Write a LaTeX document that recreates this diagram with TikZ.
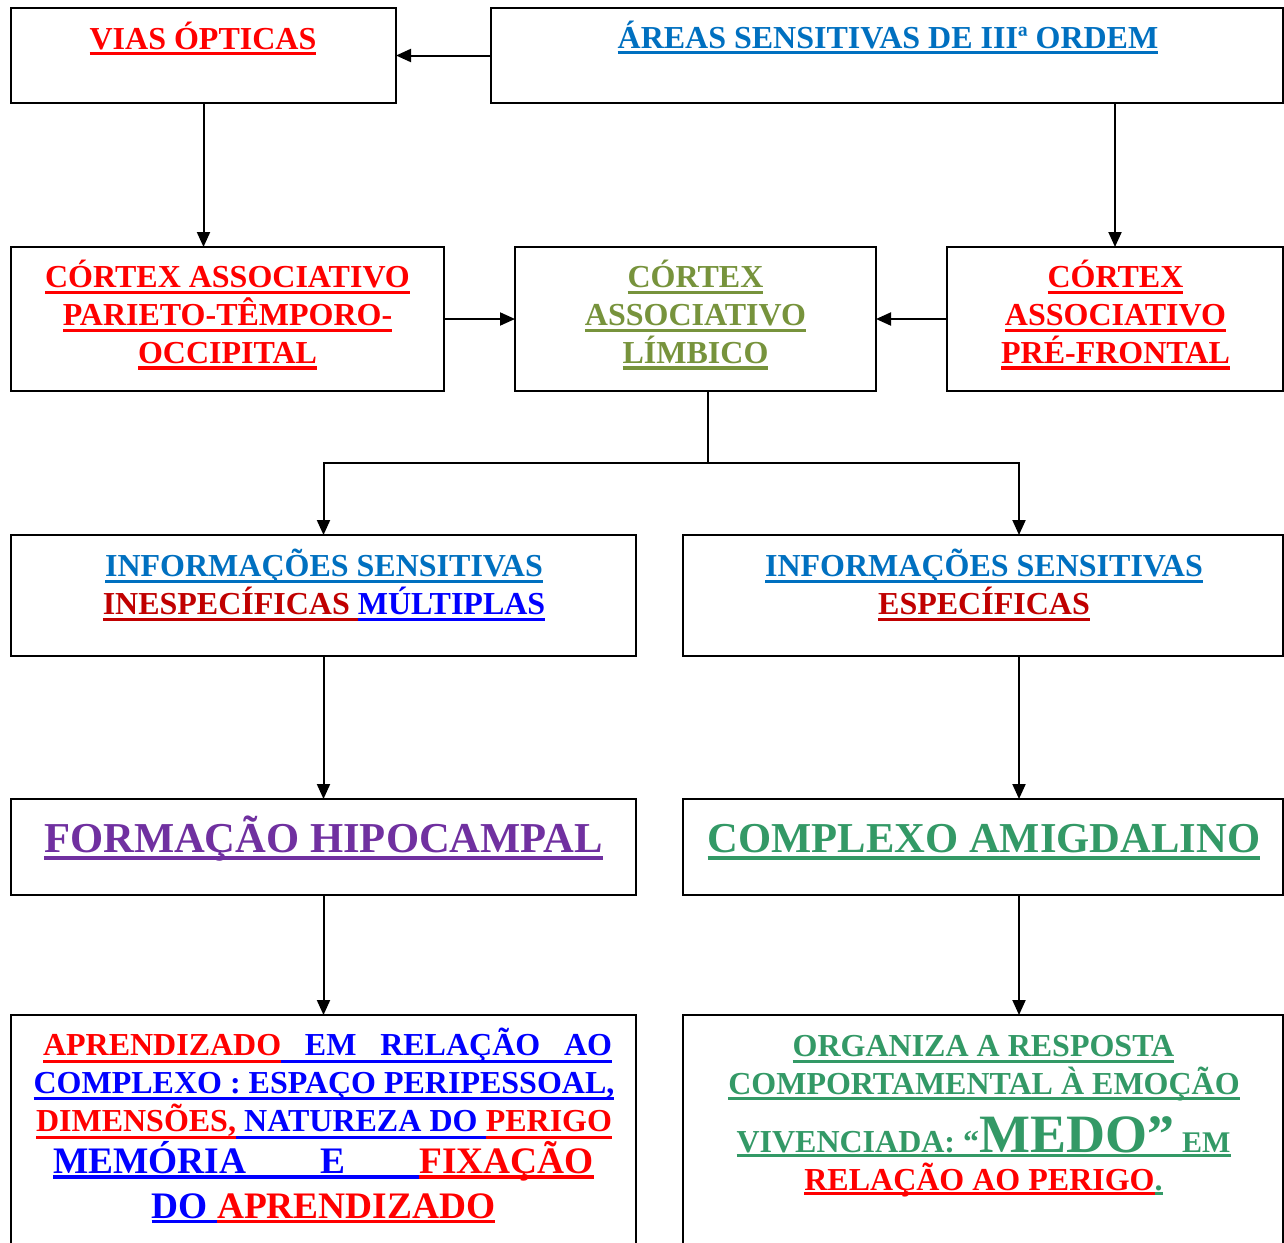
\documentclass[tikz,border=0pt]{standalone}
\usepackage{fontspec}
\setmainfont{Liberation Serif}
\usetikzlibrary{arrows.meta}

\definecolor{cred}{HTML}{FF0000}
\definecolor{cblueA}{HTML}{0070C0}
\definecolor{colive}{HTML}{77933C}
\definecolor{cdkred}{HTML}{C00000}
\definecolor{cblue}{HTML}{0000FF}
\definecolor{cpurple}{HTML}{7030A0}
\definecolor{cgreen}{HTML}{339966}

% coloured underline: position of the rule below the baseline
\newdimen\ulT \newdimen\ulB
\ulT=3pt \ulB=6.5pt
\newbox\ulbox
% underlined word(s) in a given colour
\newcommand\ulc[2]{{\color{#1}\setbox\ulbox\hbox{#2}\rlap{\vrule height -\ulT depth \ulB width \wd\ulbox}\box\ulbox}}
% stretchable underlined space in a given colour
\newcommand\ulsp[1]{{\color{#1}\leaders\hrule height -\ulT depth \ulB\hskip\fontdimen2\font plus 1fil\relax}}

\tikzset{
  box/.style={draw, line width=2pt, inner sep=0pt, outer sep=0pt, anchor=north west, fill=white},
  txt/.style={anchor=base, inner sep=0pt, outer sep=0pt, font=\bfseries\fontsize{32}{38}\selectfont},
  big/.style={txt, font=\bfseries\fontsize{42.6}{50}\selectfont},
  mid/.style={txt, font=\bfseries\fontsize{37.4}{44}\selectfont},
  arr/.style={line width=2pt, -{Triangle[length=15pt,width=13pt]}},
  link/.style={line width=2pt}
}

\begin{document}
\begin{tikzpicture}[x=1pt,y=-1pt]
\useasboundingbox (0,0) rectangle (1284,1242);
\clip (0,0) rectangle (1284,1242);
\fill[white] (0,0) rectangle (1284,1242);

% boxes
\node[box, minimum width=385, minimum height=95] (vias) at (11,8) {};
\node[box, minimum width=792, minimum height=95] (areas) at (491,8) {};
\node[box, minimum width=433, minimum height=144] (cpto) at (11,247) {};
\node[box, minimum width=361, minimum height=144] (clim) at (515,247) {};
\node[box, minimum width=336, minimum height=144] (cpf) at (947,247) {};
\node[box, minimum width=625, minimum height=121] (inesp) at (11,535) {};
\node[box, minimum width=600, minimum height=121] (esp) at (683,535) {};
\node[box, minimum width=625, minimum height=96] (hipo) at (11,799) {};
\node[box, minimum width=600, minimum height=96] (amig) at (683,799) {};
\node[box, minimum width=625, minimum height=260] (apr) at (11,1015) {};
\node[box, minimum width=600, minimum height=260] (org) at (683,1015) {};

% connectors
\draw[arr] (areas.west) -- (vias.east);
\draw[arr] (vias.south) -- (vias.south |- cpto.north);
\draw[arr] (cpf.north |- areas.south) -- (cpf.north);
\draw[arr] (cpto.east) -- (clim.west);
\draw[arr] (cpf.west) -- (clim.east);
\draw[link] ([xshift=12.5]clim.south) -- ++(0,72) coordinate (fork);
\draw[arr] (fork) -| (inesp.north);
\draw[arr] (fork) -| ([xshift=36]esp.north);
\draw[arr] (inesp.south) -- (hipo.north);
\draw[arr] ([xshift=36]esp.south) -- ([xshift=36]amig.north);
\draw[arr] (hipo.south) -- (apr.north);
\draw[arr] ([xshift=36]amig.south) -- ([xshift=36]org.north);

% texts
\node[txt] (vias-t) at (203,49) {\ulT=2.5pt\ulB=6pt\ulc{cred}{VIAS ÓPTICAS}};
\node[txt] (areas-t) at (888,48) {\ulT=2.5pt\ulB=6pt\ulc{cblueA}{ÁREAS SENSITIVAS DE IIIª ORDEM}};

\node[txt] (cpto-1) at (227.5,287.5) {\ulc{cred}{CÓRTEX ASSOCIATIVO}};
\node[txt] (cpto-2) at (227.5,325.5) {\ulc{cred}{PARIETO-TÊMPORO-}};
\node[txt] (cpto-3) at (227.5,363) {\ulc{cred}{OCCIPITAL}};

\node[txt] (clim-1) at (695.5,287.5) {\ulc{colive}{CÓRTEX}};
\node[txt] (clim-2) at (695.5,325.5) {\ulc{colive}{ASSOCIATIVO}};
\node[txt] (clim-3) at (695.5,363) {\ulc{colive}{LÍMBICO}};

\node[txt] (cpf-1) at (1115.5,287.5) {\ulc{cred}{CÓRTEX}};
\node[txt] (cpf-2) at (1115.5,325.5) {\ulc{cred}{ASSOCIATIVO}};
\node[txt] (cpf-3) at (1115.5,363) {\ulc{cred}{PRÉ-FRONTAL}};

\node[txt] (inesp-1) at (324,576.5) {\ulc{cblueA}{INFORMAÇÕES SENSITIVAS}};
\node[txt] (inesp-2) at (324,614.5) {\ulc{cdkred}{INESPECÍFICAS }\ulc{cblue}{MÚLTIPLAS}};

\node[txt] (esp-1) at (984,576.5) {\ulc{cblueA}{INFORMAÇÕES SENSITIVAS}};
\node[txt] (esp-2) at (984,614.5) {\ulc{cdkred}{ESPECÍFICAS}};

\node[big] (hipo-t) at (323.5,852) {\ulT=3.5pt\ulB=8pt\ulc{cpurple}{FORMAÇÃO HIPOCAMPAL}};
\node[big] (amig-t) at (984,852) {\ulT=3.5pt\ulB=8pt\ulc{cgreen}{COMPLEXO AMIGDALINO}};

\node[txt] (apr-1) at (327.5,1055.7) {\ulT=4pt\ulB=7pt\hbox to 569pt{\ulc{cred}{APRENDIZADO}\ulsp{cblue}\ulc{cblue}{EM}\ulsp{cblue}\ulc{cblue}{RELAÇÃO}\ulsp{cblue}\ulc{cblue}{AO}}};
\node[txt] (apr-2) at (324,1093.3) {\ulT=4pt\ulB=7pt\ulc{cblue}{COMPLEXO : ESPAÇO PERIPESSOAL,}};
\node[txt] (apr-3) at (324,1131.7) {\ulT=4pt\ulB=7pt\hbox to 576pt{\ulc{cred}{DIMENSÕES,}\ulsp{cblue}\ulc{cblue}{NATUREZA}\ulsp{cblue}\ulc{cblue}{DO}\ulsp{cblue}\ulc{cred}{PERIGO}}};
\node[mid] (apr-4) at (323.5,1173.3) {\ulT=2pt\ulB=5.5pt\hbox to 541pt{\ulc{cblue}{MEMÓRIA}\ulsp{cblue}\ulc{cblue}{E}\ulsp{cblue}\ulc{cred}{FIXAÇÃO}}};
\node[mid] (apr-5) at (323.5,1218.3) {\ulT=1.5pt\ulB=5pt\ulc{cblue}{DO }\ulc{cred}{APRENDIZADO}};

\node[txt] (org-1) at (983.5,1056.7) {\ulT=3pt\ulB=6pt\ulc{cgreen}{ORGANIZA A RESPOSTA}};
\node[txt] (org-2) at (984,1094.3) {\ulT=3pt\ulB=6pt\ulc{cgreen}{COMPORTAMENTAL À EMOÇÃO}};
\node[txt] (org-3) at (983.5,1152.3) {\ulT=2pt\ulB=5pt\ulc{cgreen}{VIVENCIADA: “{\fontsize{54}{54}\selectfont MEDO”} {\fontsize{30}{30}\selectfont EM}}};
\node[txt] (org-4) at (983.5,1190) {\ulT=2pt\ulB=5pt\ulc{cred}{RELAÇÃO AO PERIGO}\ulc{cgreen}{.}};
\end{tikzpicture}
\end{document}
